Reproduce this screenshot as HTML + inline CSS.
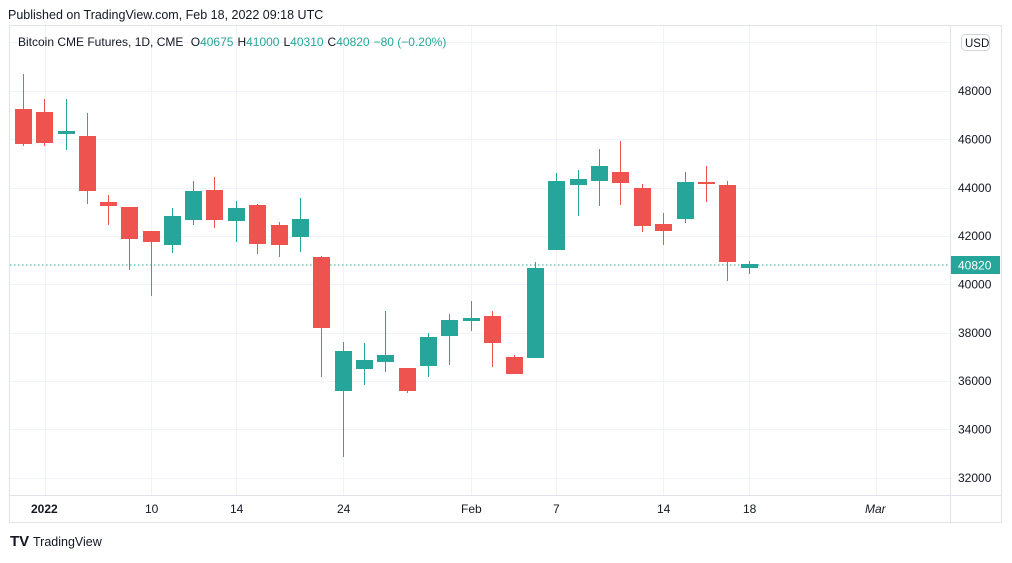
<!DOCTYPE html>
<html><head><meta charset="utf-8"><style>
body{margin:0;background:#fff;width:1012px;height:558px;overflow:hidden;font-family:"Liberation Sans",sans-serif;}
svg text{font-family:"Liberation Sans",sans-serif;}
</style></head><body>
<svg width="1012" height="558" xmlns="http://www.w3.org/2000/svg">
<rect width="1012" height="558" fill="#fff"/>
<text x="8" y="19" font-size="12.5" fill="#131722">Published on TradingView.com, Feb 18, 2022 09:18 UTC</text>
<rect x="9.5" y="25.5" width="992" height="497" fill="#fff" stroke="#e0e3eb"/>
<g stroke="#f0f3fa" stroke-width="1">
<line x1="10" x2="950" y1="42.5" y2="42.5"/><line x1="10" x2="950" y1="91.5" y2="91.5"/><line x1="10" x2="950" y1="139.5" y2="139.5"/><line x1="10" x2="950" y1="188.5" y2="188.5"/><line x1="10" x2="950" y1="236.5" y2="236.5"/><line x1="10" x2="950" y1="284.5" y2="284.5"/><line x1="10" x2="950" y1="333.5" y2="333.5"/><line x1="10" x2="950" y1="381.5" y2="381.5"/><line x1="10" x2="950" y1="429.5" y2="429.5"/><line x1="10" x2="950" y1="478.5" y2="478.5"/>
<line x1="45.5" x2="45.5" y1="26" y2="495"/><line x1="151.5" x2="151.5" y1="26" y2="495"/><line x1="236.5" x2="236.5" y1="26" y2="495"/><line x1="343.5" x2="343.5" y1="26" y2="495"/><line x1="471.5" x2="471.5" y1="26" y2="495"/><line x1="556.5" x2="556.5" y1="26" y2="495"/><line x1="663.5" x2="663.5" y1="26" y2="495"/><line x1="749.5" x2="749.5" y1="26" y2="495"/><line x1="876.5" x2="876.5" y1="26" y2="495"/>
</g>
<line x1="950.5" x2="950.5" y1="26" y2="522" stroke="#e0e3eb"/>
<line x1="10" x2="1001" y1="495.5" y2="495.5" stroke="#e0e3eb"/>
<text x="18" y="46" font-size="12" fill="#131722">Bitcoin CME Futures, 1D, CME <tspan dx="4">O</tspan><tspan fill="#26a69a">40675</tspan><tspan dx="4">H</tspan><tspan fill="#26a69a">41000</tspan><tspan dx="4">L</tspan><tspan fill="#26a69a">40310</tspan><tspan dx="4">C</tspan><tspan fill="#26a69a">40820</tspan><tspan dx="4" fill="#26a69a">−80 (−0.20%)</tspan></text>
<rect x="961.5" y="34.5" width="28" height="16" rx="4" fill="#fff" stroke="#d1d4dc"/>
<text x="965" y="47" font-size="11.5" fill="#131722">USD</text>
<g font-size="12" fill="#131722">
<text x="958" y="95">48000</text><text x="958" y="143.5">46000</text><text x="958" y="192">44000</text><text x="958" y="240">42000</text><text x="958" y="288.5">40000</text><text x="958" y="337">38000</text><text x="958" y="385">36000</text><text x="958" y="433.5">34000</text><text x="958" y="482">32000</text>
</g>
<line x1="10" x2="950" y1="265" y2="265" stroke="#26a69a" stroke-dasharray="1.5,2.5"/>
<rect x="951" y="256" width="49" height="18" fill="#26a69a"/>
<text x="958" y="269.5" font-size="12" fill="#fff">40820</text>
<g id="c"></g>
<g font-size="12" fill="#131722">
<text x="31" y="513" font-weight="bold">2022</text><text x="145" y="513">10</text><text x="230" y="513">14</text><text x="337" y="513">24</text><text x="461" y="513">Feb</text><text x="553" y="513">7</text><text x="657" y="513">14</text><text x="743" y="513">18</text><text x="865" y="513" font-style="italic">Mar</text>
</g>
<text x="10" y="546" font-size="15" font-weight="bold" fill="#131722">TV</text>
<text x="33" y="546" font-size="12.5" fill="#131722">TradingView</text>
</svg>
<script>
var d=[[23,'r',109,144,74,146],[44,'r',112,143,99,146],[66,'g',131,134,99,150],[87,'r',136,191,113,204],[108,'r',202,206,195,225],[129,'r',207,239,207,270],[151,'r',231,242,231,296],[172,'g',216,245,208,253],[193,'g',191,220,181,225],[214,'r',190,220,177,228],[236,'g',208,221,201,242],[257,'r',205,244,204,254],[279,'r',225,245,222,257],[300,'g',219,237,198,252],[321,'r',257,328,256,377],[343,'g',351,391,342,457],[364,'g',360,369,343,385],[385,'g',355,362,311,372],[407,'r',368,391,368,393],[428,'g',337,366,333,377],[449,'g',320,336,314,365],[471,'g',318,321,301,331],[492,'r',316,343,311,367],[514,'r',357,374,355,374],[535,'g',268,358,262,358],[556,'g',181,250,173,250],[578,'g',179,185,170,216],[599,'g',166,181,149,206],[620,'r',172,183,141,205],[642,'r',188,226,184,232],[663,'r',224,231,213,245],[685,'g',182,219,172,223],[706,'r',182,183,166,202],[727,'r',185,262,181,281],[749,'g',264,268,261,274]];
var s='';d.forEach(function(c){var col=c[1]=='r'?'#ef5350':'#26a69a';s+='<line x1="'+(c[0]+.5)+'" x2="'+(c[0]+.5)+'" y1="'+c[4]+'" y2="'+c[5]+'" stroke="'+col+'"/><rect x="'+(c[0]-8)+'" y="'+c[2]+'" width="17" height="'+Math.max(2,c[3]-c[2])+'" fill="'+col+'"/>';});
document.getElementById('c').innerHTML=s;
</script>
</body></html>
